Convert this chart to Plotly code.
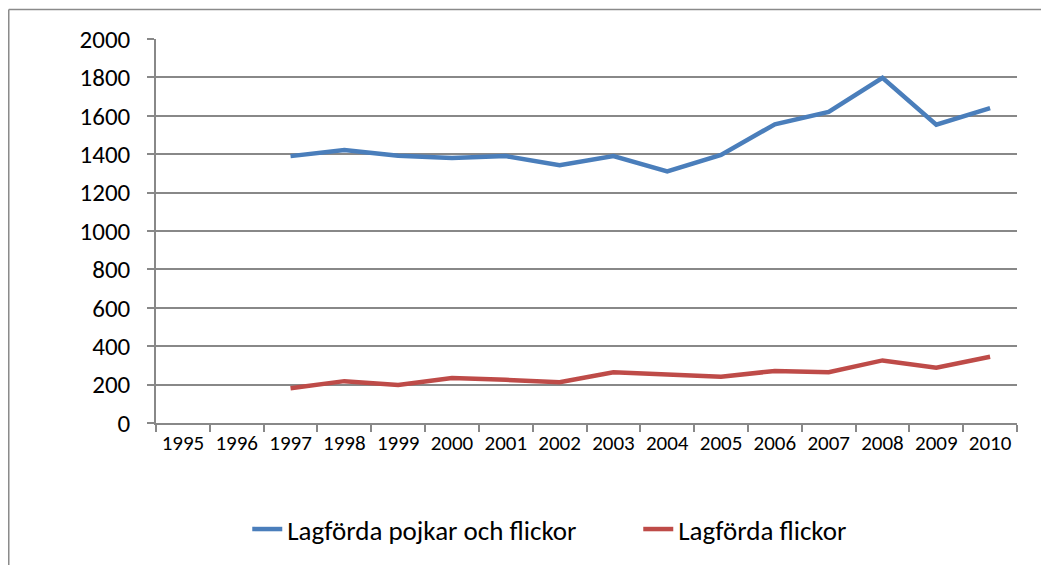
import plotly.graph_objects as go

years = [str(y) for y in range(1995, 2011)]
total = [None, None, 1390, 1422, 1392, 1380, 1390, 1342, 1390, 1310, 1396, 1556, 1620, 1798, 1554, 1640]
girls = [None, None, 181, 218, 198, 234, 225, 212, 264, 252, 241, 271, 264, 326, 288, 345]
name_total = "Lagförda pojkar och flickor"
name_girls = "Lagförda flickor"

FONT = "Carlito, Liberation Sans Narrow, Liberation Sans, Arial, sans-serif"
GRID = "#888888"

fig = go.Figure()
fig.add_trace(go.Scatter(x=years, y=total, mode="lines", name=name_total,
                         line=dict(color="#4A7EBB", width=4.5)))
fig.add_trace(go.Scatter(x=years, y=girls, mode="lines", name=name_girls,
                         line=dict(color="#BE4B48", width=4.5)))

# outer chart frame (left and top edges visible)
fig.add_shape(type="line", xref="paper", yref="paper",
              x0=-0.171, x1=-0.171, y0=1.0767, y1=-0.6,
              line=dict(color="#8a8a8a", width=1.5))
fig.add_shape(type="line", xref="paper", yref="paper",
              x0=-0.171, x1=1.1, y0=1.0767, y1=1.0767,
              line=dict(color="#8a8a8a", width=1.5))

fig.update_layout(
    width=1041, height=557,
    margin=dict(l=148, r=32, t=31, b=141),
    paper_bgcolor="white", plot_bgcolor="white",
    font=dict(family=FONT, color="#000000"),
    showlegend=True,
    legend=dict(orientation="h", x=0.106, xanchor="left", y=-0.274, yanchor="middle",
                font=dict(size=27, family=FONT), entrywidth=346, entrywidthmode="pixels",
                bgcolor="rgba(0,0,0,0)"),
    xaxis=dict(type="category", tickson="boundaries", ticks="outside", ticklen=7,
               tickcolor=GRID, tickwidth=1.5, showline=True, linecolor=GRID, linewidth=1.5,
               showgrid=False, tickfont=dict(size=21, family=FONT), fixedrange=True,
               range=[-0.5, 15.5]),
    yaxis=dict(range=[0, 2000], dtick=200, ticks="outside", ticklen=7, tickcolor=GRID,
               tickwidth=1.5, showline=True, linecolor=GRID, linewidth=1.5,
               showgrid=True, gridcolor=GRID, gridwidth=1.5, zeroline=False,
               tickfont=dict(size=25, family=FONT), ticklabelstandoff=12),
)

fig.write_html("out.html")
